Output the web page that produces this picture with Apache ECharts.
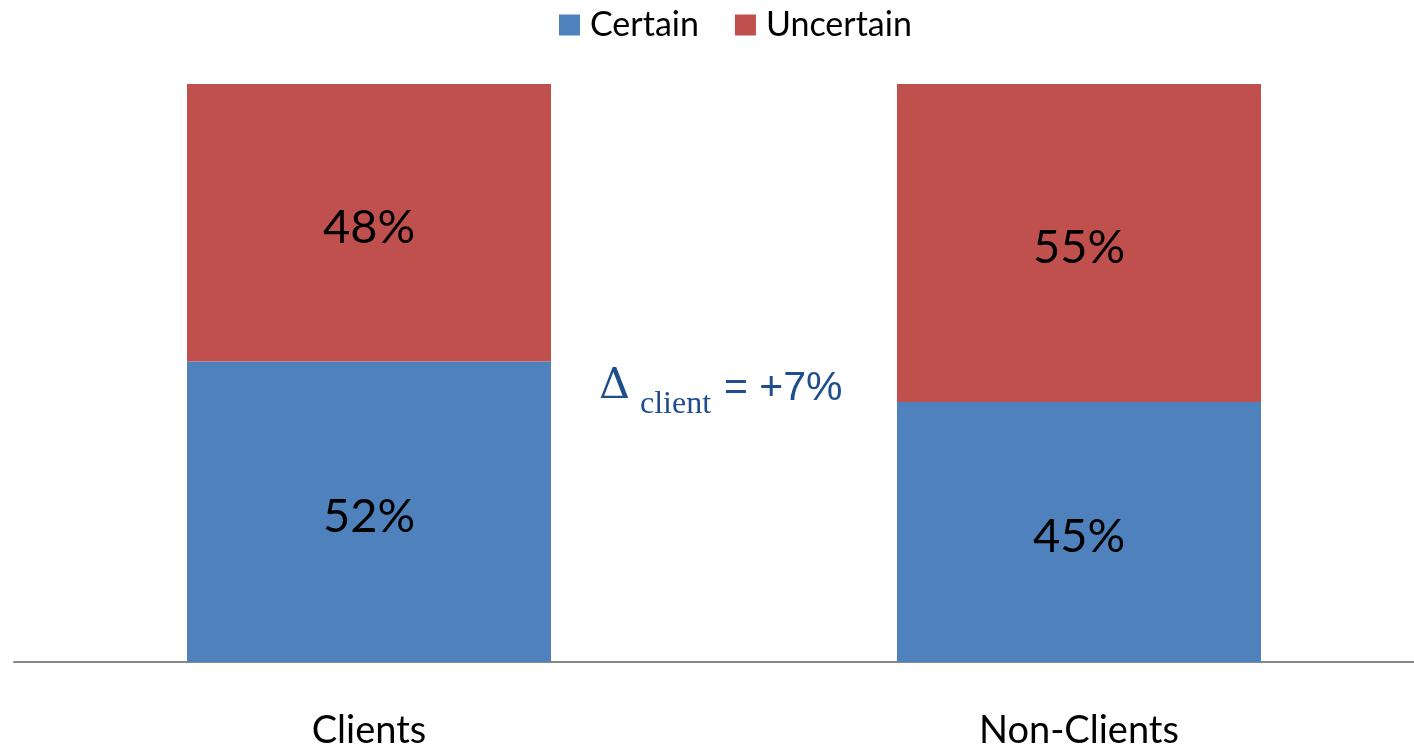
<!DOCTYPE html>
<html>
<head>
<meta charset="utf-8">
<script src="https://cdn.jsdelivr.net/npm/echarts@6/dist/echarts.min.js"></script>
<style>
  html, body { margin: 0; padding: 0; background: #fff; }
  #chart { width: 1414px; height: 745px; }
</style>
</head>
<body>
<div id="chart"></div>
<script>
// chart data
const categories = ['Clients', 'Non-Clients'];
const certain = [52, 45];
const uncertain = [48, 55];
const deltaLabel = '= +7%';

const chart = echarts.init(document.getElementById('chart'));
const labelStyle = {
  show: true,
  position: 'inside',
  formatter: '{c}%',
  color: '#000',
  fontFamily: 'Lato',
  fontSize: 47,
  offset: [0, 5]
};

const option = {
  animation: false,
  legend: {
    data: ['Certain', 'Uncertain'],
    top: 3,
    left: 554,
    itemWidth: 21,
    itemHeight: 21,
    itemGap: 36,
    icon: 'rect',
    textStyle: { fontFamily: 'Lato', fontSize: 34, color: '#000', padding: [0, 0, 0, 5] }
  },
  grid: { left: 14, width: 1420, top: 84, bottom: 83, outerBoundsMode: 'none', containLabel: false },
  xAxis: {
    type: 'category',
    data: categories,
    axisLine: { lineStyle: { color: '#888', width: 2 } },
    axisTick: { show: false },
    axisLabel: { color: '#000', fontFamily: 'Lato', fontSize: 38, margin: 50 }
  },
  yAxis: { type: 'value', min: 0, max: 100, show: false },
  series: [
    {
      name: 'Certain',
      type: 'bar',
      stack: 'total',
      barWidth: 364,
      data: certain,
      itemStyle: { color: '#4F81BD' },
      label: labelStyle
    },
    {
      name: 'Uncertain',
      type: 'bar',
      stack: 'total',
      data: uncertain,
      itemStyle: { color: '#C0504D' },
      label: labelStyle
    }
  ],
  graphic: [
    {
      type: 'text', left: 599, top: 365,
      style: { text: 'Δ', fill: '#1F4E8C', font: '43px "DejaVu Serif", "Liberation Serif", serif' }
    },
    {
      type: 'text', left: 640, top: 389,
      style: { text: 'client', fill: '#1F4E8C', font: '32px "Liberation Serif", serif' }
    },
    {
      type: 'text', left: 724, top: 368,
      style: { text: deltaLabel, fill: '#1F4E8C', font: '41px "Liberation Sans", Arial, sans-serif' }
    }
  ]
};
chart.setOption(option);
</script>
</body>
</html>
